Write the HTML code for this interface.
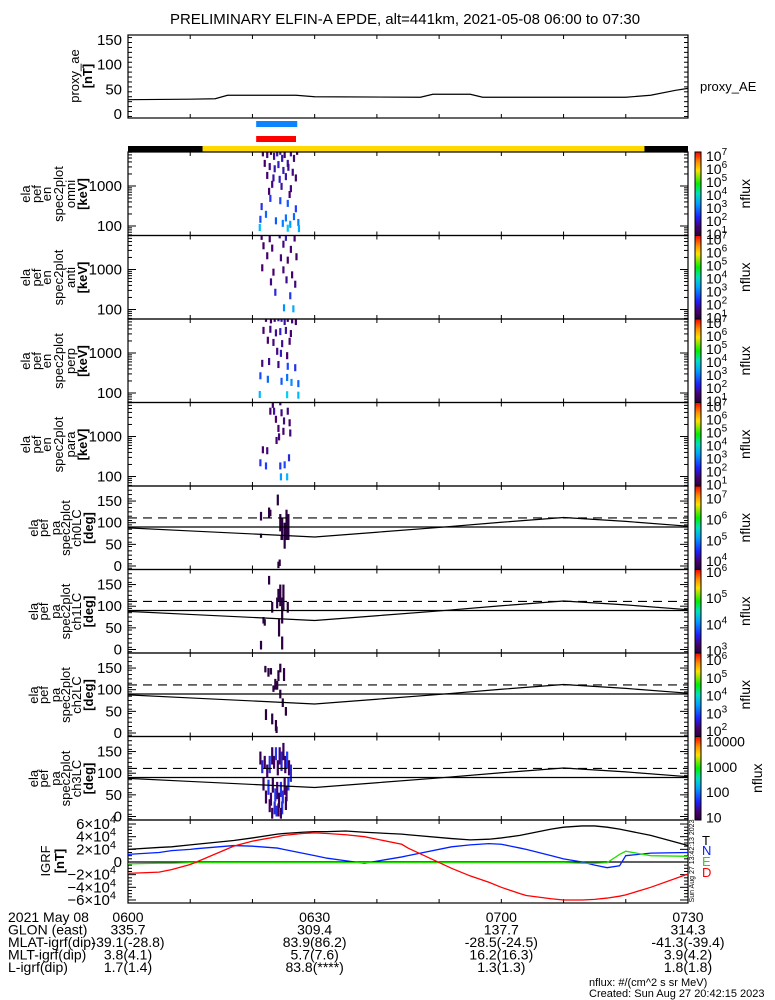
<!DOCTYPE html>
<html><head><meta charset="utf-8"><style>
html,body{margin:0;padding:0;background:#fff}
svg{display:block;font-family:"Liberation Sans",sans-serif}
</style></head><body>
<svg id="chart" width="775" height="1000" viewBox="0 0 775 1000" xmlns="http://www.w3.org/2000/svg">
<rect width="775" height="1000" fill="#fff"/>
<text x="405" y="24" font-size="15" text-anchor="middle">PRELIMINARY ELFIN-A EPDE, alt=441km, 2021-05-08 06:00 to 07:30</text>
</svg>
<script>
// ---- data ----
const aeT=[0,10,14,16,27,30,47,49,55,57,80,84,88,90];
const aeV=[29,30,31,38,38,35,34,40,40,34,34,38,48,52];
const lcT=[0,10,20,30,40,50,60,70,80,90];
const lcV=[88,81,74,67,78,89,101,112,103,92];
const igT=[0,5,7,10,11,17,20,24,25,28,30,32,35,38,44,45,52,55,58,60,63,64,68,70,73,75,77,79,80,84,90];
const igBt=[20,23,24,27,28,34,38,44,45,47,48,48,49,47,44,43,37,35,36,38,42,44,52,55,57,57,55,52,50,42,26];
const igN=[12,15,18,20,21,26,25,22,20,14,10,6,2,-2,8,10,24,27,29,28,22,20,10,5,0,-5,-9,-6,10,14,15];
const igE=[-3,-2,-2,-1,-1,-1,-1,-1,-1,-1,-1,-1,-1,-1,-1,-1,-1,-1,-1,-1,-1,-1,-1,-1,-2,-2,-1,12,17,10,9];
const igD=[-18,-16,-12,-4,0,25,33,40,42,45,46,45,43,40,28,22,-10,-22,-32,-40,-50,-53,-58,-60,-60,-59,-57,-54,-52,-40,-19];
const omniT=[21.5,22.2,22.8,23.3,23.8,24.3,24.6,25.0,25.5,26.0,26.5,27.0,21.8,22.6,23.4,24.0,24.8,25.6,26.3,22.2,23.2,24.2,25.2,26.8,23.0,24.5,26.0,22.5,25.8,21.3,22.7,24.3,25.5,26.8,21.1,22.0,23.6,25.2,26.5,24.7,25.9,27.2,21.0,25.5,27.3];
const omniE=[5500,5000,6000,4500,5500,6000,4000,5000,3000,5500,4000,6000,3000,2500,2200,2800,2000,2400,1800,1500,1300,1200,1400,1300,900,800,700,600,500,250,400,350,300,220,120,160,110,130,140,95,90,100,75,72,70];
const omniF=[1.5,1.6,1.4,1.8,1.9,2,1.9,1.5,1.8,1.8,1.6,1.4,1.4,1.7,1.9,2,1.9,1.7,1.6,1.5,1.8,2,1.9,1.5,1.6,1.8,1.6,1.5,1.5,2.3,2.4,2.6,2.7,2.5,2.6,2.8,2.7,2.9,2.8,3.0,3.2,3.0,3.4,3.5,3.3];
const antiT=[21.3,22.6,24.2,25.2,26.6,21.6,23.0,24.8,26.0,22.2,24.4,25.5,26.9,21.4,23.2,24.8,26.2,22.8,25.3,26.7,23.5,25.9,24.9,26.4];
const antiE=[5500,4800,6000,5200,5000,3200,2800,3500,2600,1800,1600,1400,1700,900,700,800,600,400,450,350,220,180,90,85];
const antiF=[1.4,1.5,1.6,2.0,1.5,1.4,1.5,1.6,1.5,1.5,1.6,1.5,1.4,1.5,1.5,1.6,1.5,1.6,1.7,1.6,2.2,2.4,3.1,3.3];
const perpT=[22.0,22.8,23.4,24.0,24.5,25.0,25.5,26.2,26.8,21.6,22.7,23.6,24.3,25.2,26.0,22.3,23.2,24.6,25.8,23.8,24.4,25.4,21.4,22.5,24.0,25.5,26.7,21.1,22.3,24.5,25.4,26.1,27.2,21.0,25.4,27.2];
const perpE=[6000,5500,6000,6200,6000,5000,6000,5500,5000,3000,3200,2600,2800,3000,2500,1700,1500,1400,1600,900,800,700,450,500,420,380,350,220,180,160,200,150,140,75,74,72];
const perpF=[1.5,1.4,1.6,1.8,2,1.8,1.5,1.6,1.4,1.5,1.6,1.7,2,1.8,1.5,1.5,1.6,1.7,1.5,1.6,2,1.5,1.6,1.7,1.6,2.6,2.3,2.6,2.8,2.7,2.9,3.1,2.8,3.4,3.6,3.4];
const paraT=[24.3,23.1,22.7,23.3,24.5,25.5,23.6,24.9,25.8,24.0,24.8,25.9,24.1,23.7,21.5,22.2,25.7,21.1,24.3,25.0,22.0,24.4,25.4];
const paraE=[6000,5200,3500,3500,3200,3500,2200,2000,1800,1300,1100,1000,800,650,380,360,240,180,150,160,150,80,80];
const paraF=[1.6,1.4,1.5,1.8,1.6,1.6,1.5,1.6,1.5,1.5,1.5,1.6,1.6,1.5,1.5,1.6,2.2,2.4,2.4,2.6,2.5,3.2,3.4];
const ch0T=[21.2,22.5,22.7,23.9,24.3,24.6,25.0,25.3,25.6,24.2,24.5,21.2,24.0];
const ch0Lo=[105,110,115,140,80,60,40,60,60,0,60,65,-5];
const ch0Hi=[125,135,130,165,120,110,100,130,120,15,70,75,10];
const ch1T=[22.5,24.0,24.3,24.8,23.0,25.5,24.6,21.6,21.8,24.1,24.6,21.2,23.8];
const ch1Lo=[150,110,100,90,85,85,60,60,55,30,0,0,95];
const ch1Hi=[170,140,150,150,110,110,120,75,70,70,30,20,120];
const ch2T=[21.9,22.4,22.8,24.0,24.3,24.9,23.5,23.8,23.2,24.3,22.0,23.0,23.6,25.2,23.7,24.7];
const ch2Lo=[140,130,135,120,140,120,100,100,95,80,30,20,5,40,0,60];
const ch2Hi=[155,150,150,145,160,150,125,120,110,100,55,45,30,60,15,80];
const ch3T=[21.1,21.4,21.8,22.2,22.6,23.0,23.3,23.6,23.9,24.2,24.5,24.8,25.1,25.4,25.7,26.0,21.6,22.4,23.1,23.8,24.4,25.0,25.6,22.0,22.8,23.5,24.1,24.7,25.3,22.6,23.4,24.0,24.6,25.2,23.0,23.7,24.4];
const ch3Lo=[120,100,110,90,100,120,110,130,95,120,105,130,100,110,95,80,60,50,55,40,45,50,60,30,25,35,20,30,35,10,5,0,5,15,-5,0,-5];
const ch3Hi=[150,130,140,120,140,160,140,160,130,160,150,170,140,150,130,120,90,85,90,80,80,90,90,60,55,65,55,60,70,40,35,30,35,45,20,25,20];
const ch3F=[1.2,2.2,1.3,1.5,2.3,1.2,1.4,2.4,1.3,1.5,2.2,1.3,1.4,2.5,1.3,2.2,1.3,2.4,1.2,1.5,2.3,1.4,2.5,1.3,1.4,2.4,1.2,2.3,1.4,1.3,2.2,1.3,2.4,1.3,1.2,2.3,1.3];
const specTicks=[100,1000];
const paTicks=[0,50,100,150];
const aeTicks=[0,50,100,150];
const igTicks=[-6,-4,-2,0,2,4,6];
const cbLabels=[[1,2,3,4,5,6,7],[1,2,3,4,5,6,7],[1,2,3,4,5,6,7],[1,2,3,4,5,6,7],[4,5,6,7],[3,4,5,6],[2,3,4,5,6],[1,2,3,4]];
const cbRange=[[0.9,7.3],[0.9,7.3],[0.9,7.3],[0.9,7.3],[3.6,7.6],[2.9,6.1],[1.7,6.4],[0.9,4.2]];
const infoRows=["2021 May 08","GLON (east)","MLAT-igrf(dip)","MLT-igrf(dip)","L-igrf(dip)"];
const infoTimes=[0,30,60,90];
const infoCols=[["0600","335.7","-39.1(-28.8)","3.8(4.1)","1.7(1.4)"],["0630","309.4","83.9(86.2)","5.7(7.6)","83.8(****)"],["0700","137.7","-28.5(-24.5)","16.2(16.3)","1.3(1.3)"],["0730","314.3","-41.3(-39.4)","3.9(4.2)","1.8(1.8)"]];

// ---- drawing ----
const NS="http://www.w3.org/2000/svg";
const svg=document.getElementById('chart');
const L=128,R=688,PH=83.5,P0=152;
const X=t=>L+t/90*(R-L);
function mk(tag,attrs,parent){const e=document.createElementNS(NS,tag);for(const k in attrs)e.setAttribute(k,attrs[k]);(parent||svg).appendChild(e);return e;}
function txt(s,x,y,size,anchor,parent){const e=mk('text',{x:x,y:y,'font-size':size,'text-anchor':anchor||'start'},parent);e.textContent=s;return e;}
const stops=[[1,[42,0,64]],[1.5,[70,0,110]],[2,[50,30,190]],[2.5,[30,60,255]],[3,[0,130,255]],[3.5,[0,200,255]],[4,[0,230,190]],[5,[0,240,0]],[6,[255,210,0]],[7,[255,0,0]]];
function col(f){f=Math.max(1,Math.min(7,f));for(let i=0;i<stops.length-1;i++){const a=stops[i],b=stops[i+1];if(f<=b[0]){const u=(f-a[0])/(b[0]-a[0]);const c=a[1].map((v,j)=>Math.round(v+(b[1][j]-v)*u));return 'rgb('+c.join(',')+')';}}return 'rgb(255,0,0)';}

const defs=mk('defs',{});
const lg=mk('linearGradient',{id:'rb',x1:0,y1:1,x2:0,y2:0},defs);
[[0,'#2a0040'],[0.1,'#46006e'],[0.22,'#2020ff'],[0.38,'#00a0ff'],[0.5,'#00e0c0'],[0.62,'#00f000'],[0.78,'#ffe000'],[0.88,'#ff9000'],[1,'#ff0000']].forEach(s=>mk('stop',{offset:s[0],'stop-color':s[1]},lg));

function xTicks(g,top,bot){for(let t=10;t<90;t+=10){mk('line',{x1:X(t),x2:X(t),y1:top,y2:top+4,stroke:'#000'},g);mk('line',{x1:X(t),x2:X(t),y1:bot,y2:bot-4,stroke:'#000'},g);}}
function frame(g,top,bot){mk('rect',{x:L,y:top,width:R-L,height:bot-top,fill:'none',stroke:'#000','stroke-width':1.2},g);}
function sideLabel(g,lines,xs,cy){lines.forEach((s,i)=>{const e=txt(s,xs[i],cy,13,'middle',g);e.setAttribute('transform','rotate(-90 '+xs[i]+' '+cy+')');if(s[0]=='[')e.setAttribute('font-weight','bold');});}
function yTick(g,y,len){mk('line',{x1:L,x2:L+len,y1:y,y2:y,stroke:'#000'},g);mk('line',{x1:R,x2:R-len,y1:y,y2:y,stroke:'#000'},g);}

const gAE=mk('g',{});


const aeY=v=>114-v*0.493;
frame(gAE,35,118);xTicks(gAE,35,118);
for(let v=-5;v<=160;v+=10){if(aeY(v)>35&&aeY(v)<118)yTick(gAE,aeY(v),v%50==0?8:4);}
aeTicks.forEach(v=>{const e=txt(String(v),122,aeY(v)+5,15,'end',gAE);});
sideLabel(gAE,['proxy_ae','[nT]'],[79,92],76);
const aeLine=mk('polyline',{fill:'none',stroke:'#000','stroke-width':1.2,points:aeT.map((t,i)=>X(t)+','+aeY(aeV[i])).join(' ')},gAE);


const aeLeg=txt('proxy_AE',700,91,13,'start',gAE);



const bb=mk('rect',{x:X(20.6),y:121,width:X(27.2)-X(20.6),height:6,fill:'#0a84ff'});


const rb=mk('rect',{x:X(20.6),y:136,width:X(27)-X(20.6),height:6,fill:'#ff0000'});


const sb1=mk('rect',{x:L,y:146,width:X(12)-L,height:6,fill:'#000'});


const sb2=mk('rect',{x:X(12),y:146,width:X(83)-X(12),height:6,fill:'#ffd800'});


const sb3=mk('rect',{x:X(83),y:146,width:R-X(83),height:6,fill:'#000'});



const specSets=[['omni',omniT,omniE,omniF],['anti',antiT,antiE,antiF],['perp',perpT,perpE,perpF],['para',paraT,paraE,paraF]];
specSets.forEach((s,pi)=>{
  const top=P0+pi*PH,bot=top+PH;
  const g=mk('g',{});
  
  
  const Y=e=>top+34-40*(Math.log10(e)-3);
  s[1].forEach((t,i)=>{const y2=Y(s[2][i]),y1=Y(s[2][i]*1.5);
    const r=mk('rect',{x:X(t),y:Math.max(top,y1),width:2.2,height:Math.min(bot,y2)-Math.max(top,y1),fill:col(s[3][i])},g);
    
    });
  frame(g,top,bot);xTicks(g,top,bot);
  for(let d=1;d<=3;d++)for(let m=1;m<10;m++){const v=m*Math.pow(10,d);const y=Y(v);if(y>top&&y<bot)yTick(g,y,m==1?8:4);}
  specTicks.forEach(v=>{const e=txt(String(v),122,Y(v)+5,15,'end',g);});
  sideLabel(g,['ela','pef','en','spec2plot',s[0],'[keV]'],[30,41,51,63,75,87],top+42);
});

const paSets=[['ch0LC',ch0T,ch0Lo,ch0Hi,null],['ch1LC',ch1T,ch1Lo,ch1Hi,null],['ch2LC',ch2T,ch2Lo,ch2Hi,null],['ch3LC',ch3T,ch3Lo,ch3Hi,ch3F]];
paSets.forEach((s,k)=>{
  const pi=k+4,top=P0+pi*PH,bot=top+PH;
  const g=mk('g',{});
  
  
  const Y=v=>top+80-v*0.433;
  s[1].forEach((t,i)=>{const y1=Math.max(top,Y(s[3][i])),y2=Math.min(bot,Y(s[2][i]));
    const r=mk('rect',{x:X(t),y:y1,width:2.2,height:y2-y1,fill:s[4]?col(s[4][i]):'#2a0040'},g);
    
    });
  frame(g,top,bot);xTicks(g,top,bot);
  for(let v=-5;v<=180;v+=10){const y=Y(v);if(y>top&&y<bot)yTick(g,y,v%50==0?8:4);}
  for(let v=0;v<=150;v+=50)yTick(g,Y(v),8);
  paTicks.forEach(v=>{const e=txt(String(v),122,Y(v)+5,15,'end',g);});
  const h90=mk('line',{x1:L,x2:R,y1:Y(90),y2:Y(90),stroke:'#000','stroke-width':1.2},g);
  
  
  const dl=mk('line',{x1:L,x2:R,y1:Y(111),y2:Y(111),stroke:'#000','stroke-width':1.2,'stroke-dasharray':'9,6'},g);
  
  
  const lc=mk('polyline',{fill:'none',stroke:'#000','stroke-width':1.2,points:lcT.map((t,i)=>X(t)+','+Y(lcV[i])).join(' ')},g);
  
  
  sideLabel(g,['ela','pef','pa','spec2plot',s[0],'[deg]'],[38,48,60,70,81,93],top+42);
});

cbLabels.forEach((labs,pi)=>{
  const top=P0+pi*PH,bot=top+PH;
  const g=mk('g',{});
  
  
  mk('rect',{x:695,y:top,width:6,height:PH,fill:'url(#rb)',stroke:'#000','stroke-width':1},g);
  const r=cbRange[pi];const Y=v=>bot-(v-r[0])/(r[1]-r[0])*PH;
  labs.forEach(v=>{const y=Y(v)+5;let e;
    if(pi==7){e=txt(String(Math.pow(10,v)),706,y,14,'start',g);}
    else{e=txt('10',706,y,14,'start',g);const sp=mk('tspan',{dy:-6,'font-size':10},e);sp.textContent=String(v);}
    
    });
  const n=txt('nflux',pi==7?762:750,top+PH/2,14,'middle',g);
  n.setAttribute('transform','rotate(-90 '+(pi==7?762:750)+' '+(top+PH/2)+')');
  
  
});

const gI=mk('g',{});


const iY=v=>862-v*0.633;
frame(gI,820,903);xTicks(gI,820,903);
for(let v=-60;v<=60;v+=5){yTick(gI,iY(v),v%20==0?8:4);}
igTicks.forEach(v=>{let e;if(v==0){e=txt('0',122,iY(0)+5,15,'end',gI);}else{e=txt((v<0?'\u2212':'')+Math.abs(v*1)+'\u00d710',116,iY(v*10)+5,15,'end',gI);const sp=mk('tspan',{dy:-6,'font-size':11},e);sp.textContent='4';}
  });
const z=mk('line',{x1:L,x2:R,y1:iY(0),y2:iY(0),stroke:'#000','stroke-width':1.2},gI);


[['igrf-total-line',igBt,'#000'],['igrf-north-line',igN,'#0020ff'],['igrf-east-line',igE,'#20e000'],['igrf-down-line',igD,'#ff0000']].forEach(s=>{
  const p=mk('polyline',{fill:'none',stroke:s[2],'stroke-width':1.3,points:igT.map((t,i)=>X(t)+','+iY(s[1][i])).join(' ')},gI);
  
  });
sideLabel(gI,['IGRF','[nT]'],[50,64],861);
[['T','#000',845],['N','#0020ff',855],['E','#20e000',866],['D','#ff0000',877]].forEach(s=>{const e=txt(s[0],702,s[2],13,'start',gI);e.setAttribute('fill',s[1]);});
const st=txt('Sun Aug 27 13:42:13 2023',0,0,7,'middle',gI);
st.setAttribute('transform','translate(694 861) rotate(-90)');



const gT=mk('g',{});


const rowY=[922,934.5,947,959.5,972];
infoRows.forEach((s,i)=>{const e=txt(s,8,rowY[i],14,'start',gT);});
infoCols.forEach((c,j)=>c.forEach((s,i)=>{const e=txt(s,X(infoTimes[j]),rowY[i],14,'middle',gT);}));
const f1=txt('nflux: #/(cm^2 s sr MeV)',589,986,11,'start');


const f2=txt('Created: Sun Aug 27 20:42:15 2023',589,997,11,'start');


</script>
</body></html>
